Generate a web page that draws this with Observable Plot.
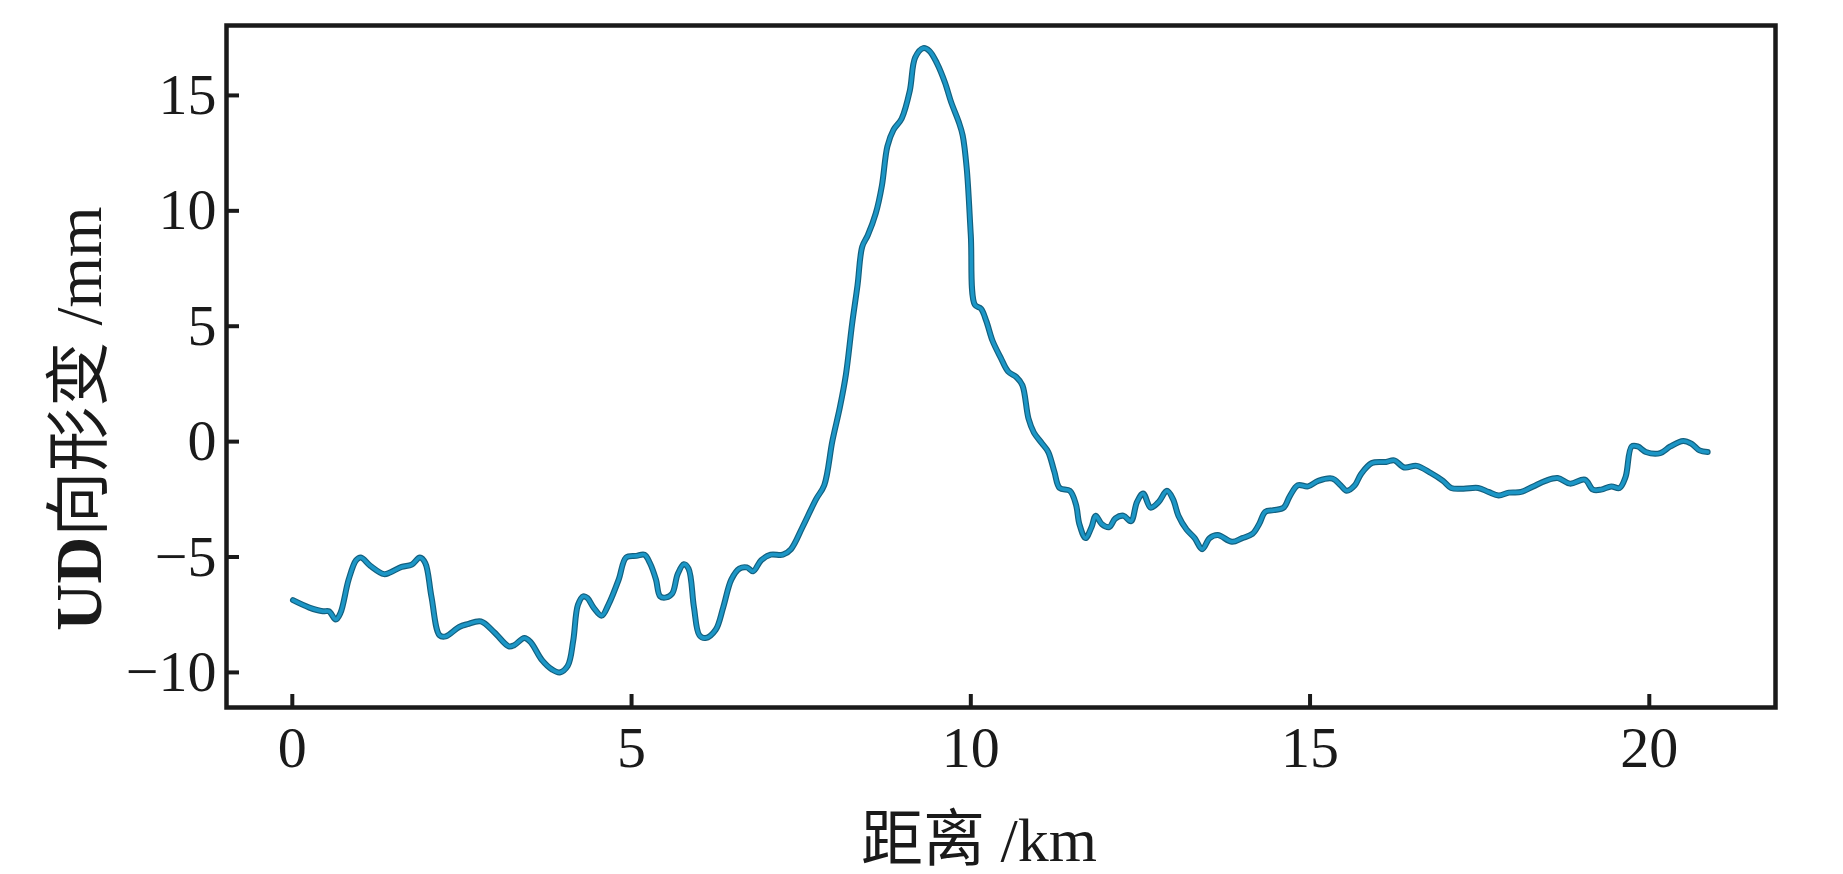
<!DOCTYPE html>
<html>
<head>
<meta charset="utf-8">
<script src="https://cdn.jsdelivr.net/npm/d3@7"></script>
<script src="https://cdn.jsdelivr.net/npm/@observablehq/plot@0.6"></script>
<style>
  html, body { margin: 0; padding: 0; background: #fff; overflow: hidden; }
</style>
</head>
<body>
<div id="chart"></div>
<script>
// Distance along profile (km)
const distance = [
  0.01, 0.25, 0.45, 0.54, 0.64, 0.71, 0.83, 0.94, 1.01, 1.15, 1.35, 1.44, 1.61, 1.76, 1.88, 1.96,
  2.05, 2.17, 2.26, 2.46, 2.58, 2.78, 2.98, 3.19, 3.27, 3.42, 3.51, 3.68, 3.83, 3.94, 4.06, 4.14,
  4.21, 4.29, 4.35, 4.44, 4.56, 4.66, 4.81, 4.92, 5.07, 5.19, 5.27, 5.36, 5.42, 5.51, 5.60, 5.68,
  5.77, 5.84, 5.92, 6.00, 6.09, 6.24, 6.35, 6.47, 6.59, 6.70, 6.79, 6.91, 7.05, 7.23, 7.35, 7.52,
  7.72, 7.84, 7.96, 8.07, 8.16, 8.25, 8.33, 8.40, 8.48, 8.60, 8.69, 8.77, 8.86, 8.98, 9.10, 9.18,
  9.30, 9.39, 9.50, 9.62, 9.71, 9.82, 9.88, 9.94, 10.00, 10.06, 10.15, 10.23, 10.32, 10.44, 10.55, 10.67,
  10.76, 10.85, 10.93, 11.05, 11.14, 11.23, 11.31, 11.46, 11.55, 11.60, 11.69, 11.78, 11.84, 11.93, 12.04, 12.13,
  12.25, 12.36, 12.45, 12.54, 12.65, 12.77, 12.89, 12.98, 13.06, 13.18, 13.30, 13.41, 13.52, 13.64, 13.85, 14.00,
  14.15, 14.25, 14.34, 14.46, 14.61, 14.70, 14.82, 14.97, 15.12, 15.33, 15.45, 15.54, 15.66, 15.75, 15.91, 16.12,
  16.24, 16.39, 16.57, 16.78, 16.96, 17.08, 17.26, 17.48, 17.63, 17.78, 17.93, 18.11, 18.29, 18.47, 18.65, 18.83,
  19.05, 19.17, 19.29, 19.44, 19.56, 19.65, 19.74, 19.83, 19.95, 20.16, 20.31, 20.50, 20.62, 20.74, 20.86
];
// UD deformation (mm)
const deformation = [
  -6.87, -7.19, -7.35, -7.35, -7.71, -7.42, -5.98, -5.14, -5.02, -5.38, -5.74, -5.67, -5.43, -5.33, -5.02, -5.26,
  -6.71, -8.39, -8.44, -8.03, -7.91, -7.79, -8.27, -8.87, -8.82, -8.51, -8.68, -9.47, -9.88, -10.00, -9.71, -8.63,
  -7.07, -6.70, -6.78, -7.19, -7.54, -7.06, -5.98, -5.02, -4.95, -4.90, -5.26, -5.98, -6.70, -6.75, -6.58, -5.74,
  -5.31, -5.50, -7.19, -8.39, -8.51, -8.15, -7.19, -5.98, -5.50, -5.45, -5.62, -5.14, -4.90, -4.90, -4.66, -3.70,
  -2.49, -1.89, 0.03, 1.48, 2.92, 5.09, 6.77, 8.45, 8.93, 9.90, 11.10, 12.79, 13.51, 13.99, 15.19, 16.64,
  17.05, 16.93, 16.40, 15.55, 14.71, 13.87, 13.27, 11.83, 8.94, 5.93, 5.76, 5.21, 4.37, 3.64, 3.04, 2.80,
  2.44, 1.00, 0.39, -0.08, -0.44, -1.29, -2.01, -2.13, -2.73, -3.57, -4.18, -3.70, -3.21, -3.57, -3.70, -3.33,
  -3.21, -3.45, -2.61, -2.25, -2.86, -2.61, -2.13, -2.49, -3.21, -3.81, -4.18, -4.66, -4.18, -4.05, -4.34, -4.18,
  -4.00, -3.57, -3.04, -2.97, -2.86, -2.37, -1.89, -1.94, -1.70, -1.60, -1.89, -2.13, -1.89, -1.41, -0.93, -0.88,
  -0.81, -1.12, -1.05, -1.36, -1.70, -2.01, -2.04, -2.01, -2.18, -2.33, -2.21, -2.18, -1.94, -1.70, -1.58, -1.82,
  -1.65, -2.08, -2.08, -1.94, -2.01, -1.53, -0.21, -0.21, -0.45, -0.50, -0.21, 0.03, -0.09, -0.38, -0.45
];
const xTicks = [0, 5, 10, 15, 20];
const yTicks = [-10, -5, 0, 5, 10, 15];
const xTitle = "距离 /km";
const yTitle = "UD向形变 /mm";

const fmt = d => d < 0 ? "\u2212" + Math.abs(d) : String(d);
const ink = "#1a1a1a";

const plot = Plot.plot({
  width: 1843,
  height: 874,
  marginTop: 25,
  marginLeft: 226,
  marginRight: 68,
  marginBottom: 167,
  style: {
    fontFamily: "'Liberation Serif', 'Times New Roman', 'Noto Sans CJK SC', serif",
    fontSize: "58px",
    background: "#fff",
    color: ink
  },
  x: { domain: [-0.97, 21.86] },
  y: { domain: [-11.52, 18.03] },
  marks: [
    Plot.line(deformation, { x: distance, y: d => d, stroke: "#13607f", strokeWidth: 6, curve: "catmull-rom" }),
    Plot.line(deformation, { x: distance, y: d => d, stroke: "#1c96c6", strokeWidth: 3.6, curve: "catmull-rom" }),
    Plot.axisX(xTicks, { tickSize: -13, fill: "none", stroke: ink, strokeWidth: 4, label: null }),
    Plot.axisX(xTicks, { tickSize: 0, tickPadding: 18, tickFormat: fmt, fontSize: 58, label: null }),
    Plot.axisY(yTicks, { tickSize: -13, fill: "none", stroke: ink, strokeWidth: 4, label: null }),
    Plot.axisY(yTicks, { tickSize: 0, tickPadding: 10, tickFormat: fmt, fontSize: 58, label: null }),
    Plot.frame({ stroke: ink, strokeWidth: 4.5 }),
    Plot.text([xTitle], { text: d => d, frameAnchor: "bottom", textAnchor: "middle", lineAnchor: "top", dx: -22, dy: 109, fontSize: 62, fill: ink }),
    Plot.text([yTitle], { text: d => d, frameAnchor: "left", textAnchor: "middle", lineAnchor: "middle", rotate: -90, dx: -146, dy: 52, fontSize: 65, fill: ink })
  ]
});

// make "UD" bold within the y title
plot.querySelectorAll("text").forEach(t => {
  if (t.textContent === yTitle) {
    t.textContent = "";
    const ns = "http://www.w3.org/2000/svg";
    const a = document.createElementNS(ns, "tspan");
    a.setAttribute("font-weight", "bold");
    a.textContent = "UD";
    const b = document.createElementNS(ns, "tspan");
    b.textContent = "向形变 /mm";
    t.appendChild(a);
    t.appendChild(b);
  }
});

document.getElementById("chart").appendChild(plot);
</script>
</body>
</html>
